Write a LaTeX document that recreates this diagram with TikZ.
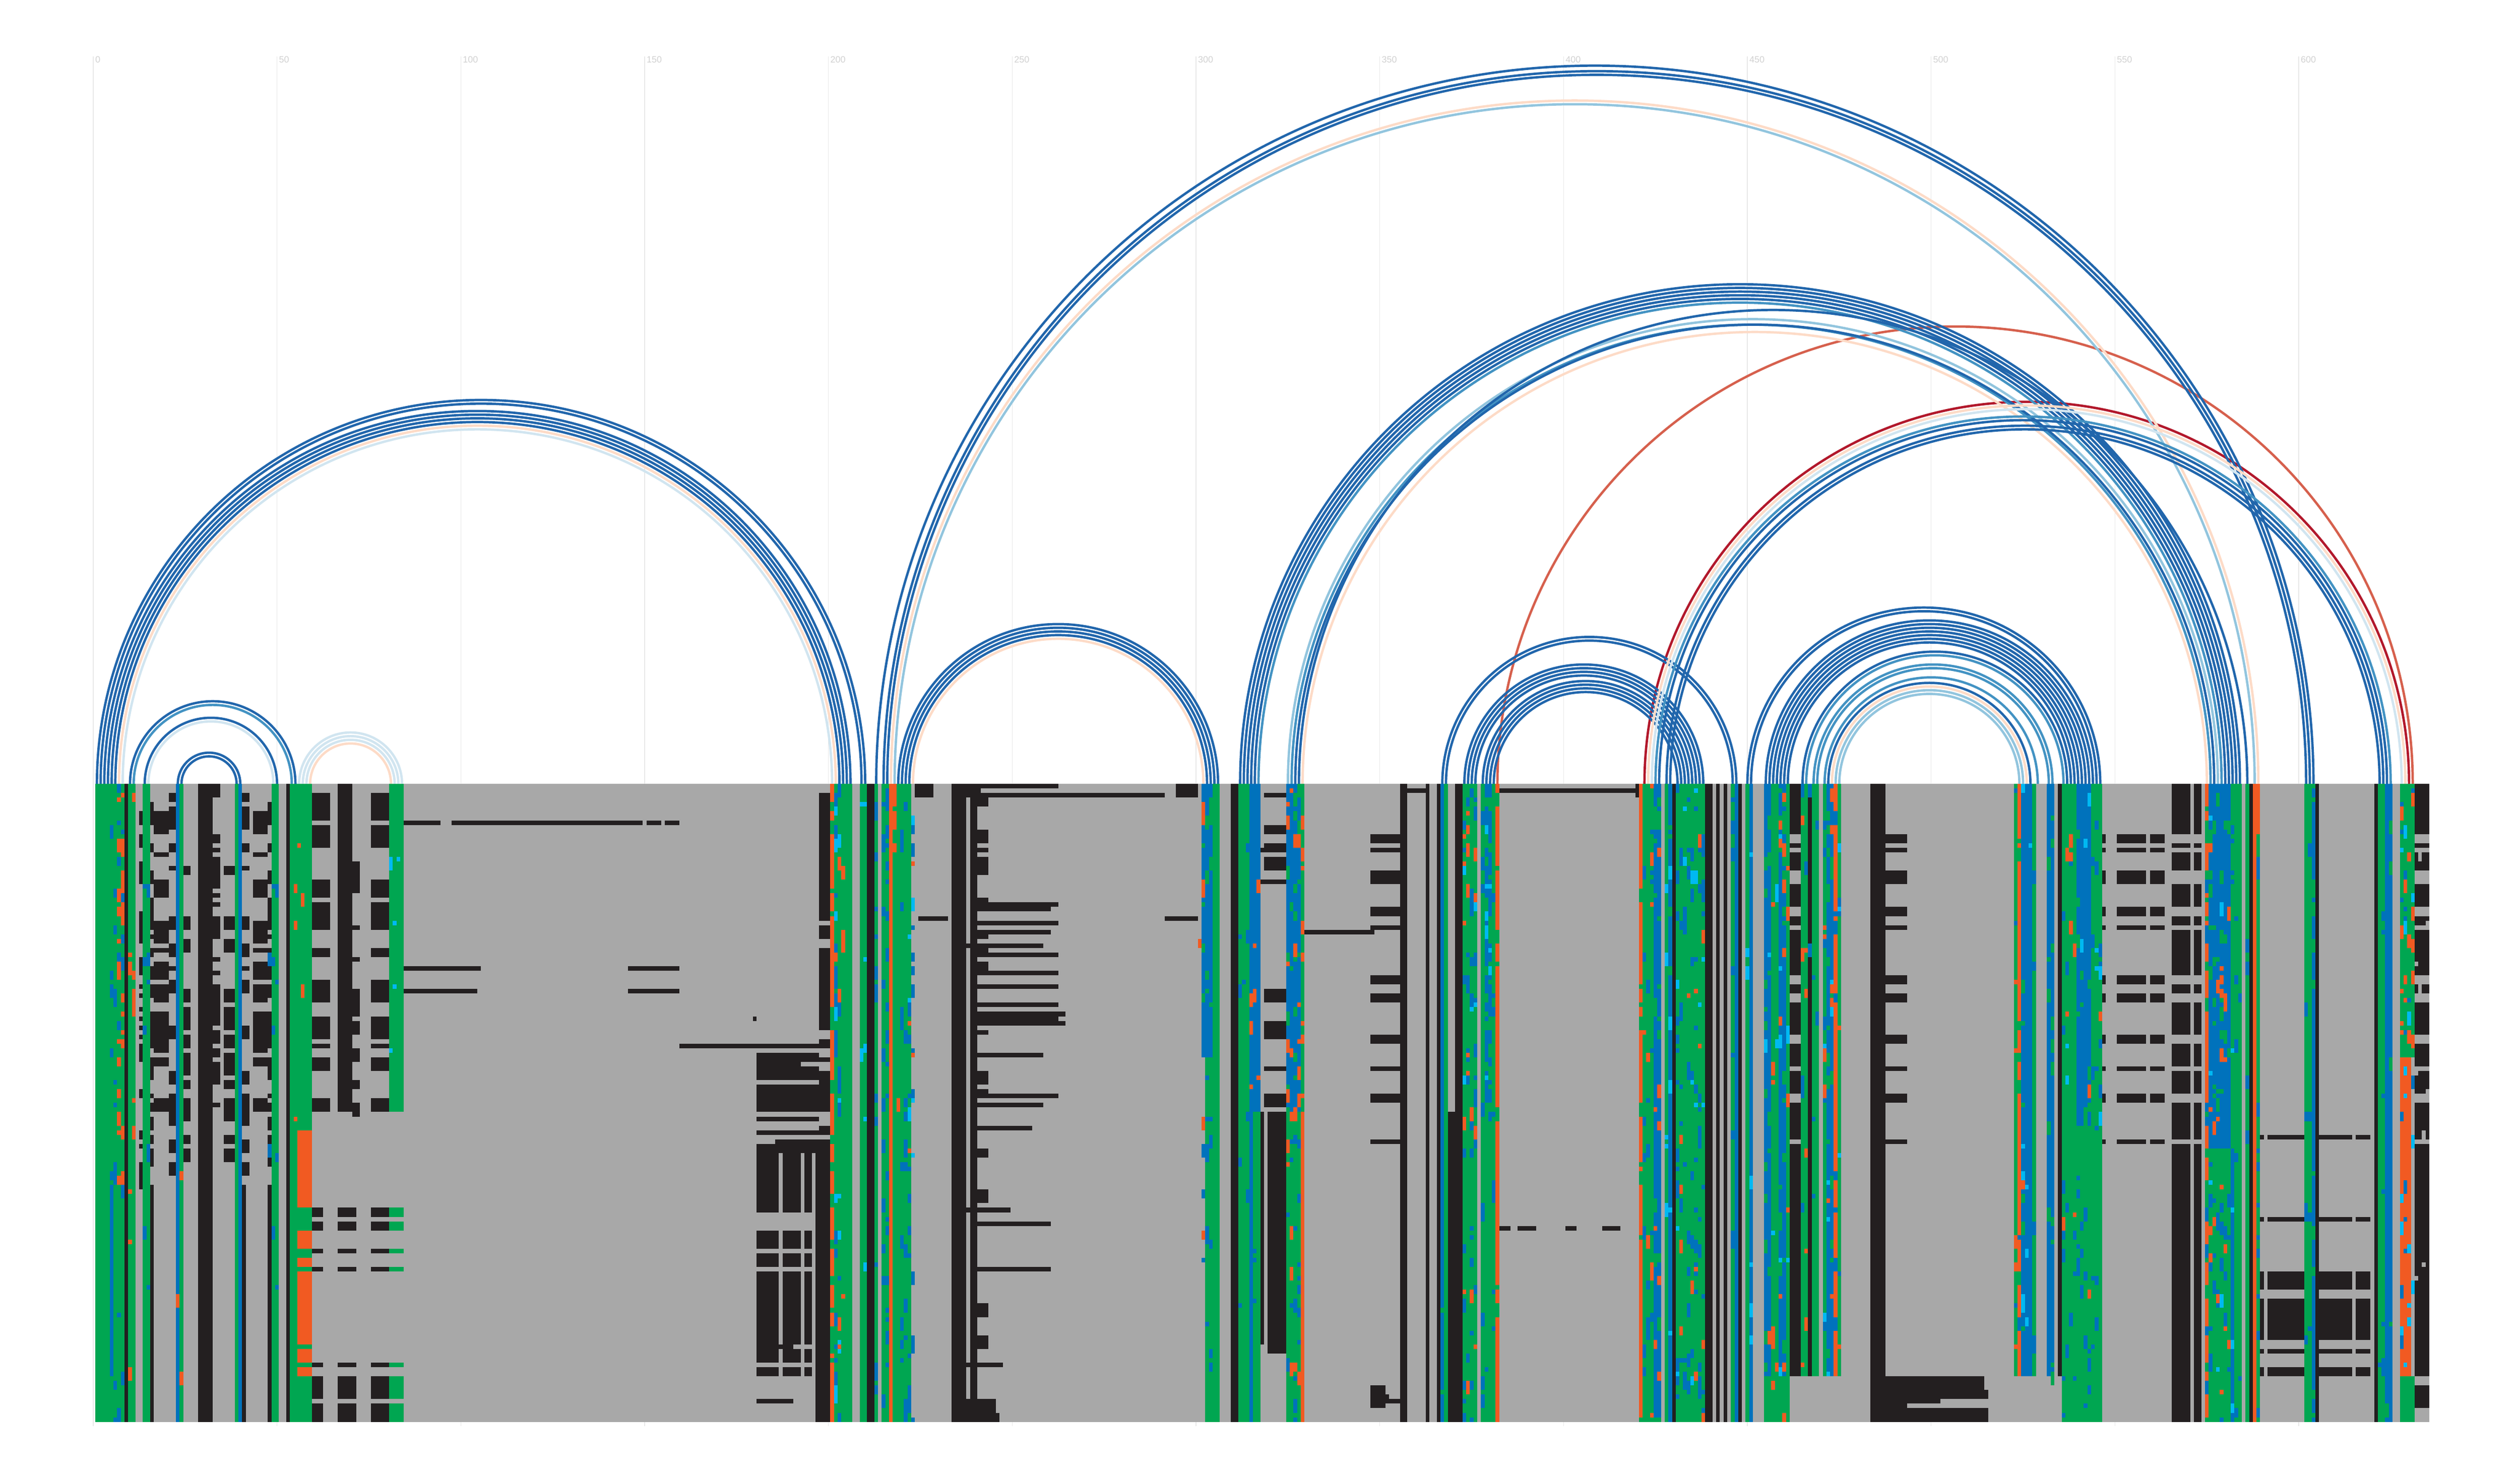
\documentclass[tikz,border=0pt]{standalone}
\usepackage{fontspec}
\setmainfont{Liberation Sans}
\definecolor{msaG}{HTML}{00A651}
\definecolor{msaB}{HTML}{0072BC}
\definecolor{msaC}{HTML}{00B9F2}
\definecolor{msaO}{HTML}{F15A22}
\definecolor{msaK}{HTML}{231F20}
\definecolor{msaS}{HTML}{A8A8A8}
\definecolor{arcblue1}{HTML}{2166AC}
\definecolor{arcblue2}{HTML}{4393C3}
\definecolor{arcblue3}{HTML}{92C5DE}
\definecolor{arcblue4}{HTML}{D1E5F0}
\definecolor{arcpeach}{HTML}{FDDBC7}
\definecolor{arcred1}{HTML}{D6604D}
\definecolor{arcred2}{HTML}{B2182B}
\tikzset{
  arcD/.style={draw=arcblue1,line width=0.048cm},
  arcM/.style={draw=arcblue2,line width=0.048cm},
  arcL/.style={draw=arcblue3,line width=0.048cm},
  arcV/.style={draw=arcblue4,line width=0.048cm},
  arcP/.style={draw=arcpeach,line width=0.048cm},
  arcR/.style={draw=arcred1,line width=0.048cm},
  arcRR/.style={draw=arcred2,line width=0.048cm},
  gridline/.style={draw=black!9,line width=0.015cm},
  ticklabel/.style={anchor=north west,inner sep=0pt,text=black!18,font=\fontsize{5.2}{6}\selectfont}
}
% one basepair: style, left column, right column
\newcommand{\pairarc}[3]{\pgfmathsetmacro{\arcr}{(#3-#2)*0.03705}\draw[#1] (#2-0.5,0) arc[start angle=180,end angle=0,radius=\arcr cm];}
% loose cells: columns, rows, colour, how many, seed
\newcommand{\speckle}[7]{\pgfmathsetseed{#7}\foreach \n in {1,...,#6}{\pgfmathrandominteger{\cx}{#1}{#2}\pgfmathrandominteger{\cy}{#3}{#4}\pgfmathrandominteger{\ch}{1}{3}\fill[fill=#5] (\cx-1,\cy-1) rectangle ++(1,\ch);}}
% whole bars across the columns, same seed gives the same rows
\newcommand{\barset}[7]{\pgfmathsetseed{#7}\foreach \n in {1,...,#6}{\pgfmathrandominteger{\cy}{#3}{#4}\pgfmathrandominteger{\ch}{1}{3}\fill[fill=#5] (#1-1,\cy-1) rectangle (#2,\cy+\ch-1);}}
\begin{document}
\begin{tikzpicture}[x=0.0741cm,y=-0.0919cm]
\useasboundingbox (-25.87,-172.03) rectangle (659.69,152.88);
\foreach \t in {0,50,...,600}{
  \draw[gridline] (\t-0.5,-159.7) -- (\t-0.5,140.9);
  \node[ticklabel] (tick\t) at (\t-0.05,-159.7) {\t};
}
\pairarc{arcR}{382}{631}
\pairarc{arcRR}{422}{630}
\pairarc{arcV}{8}{201}
\pairarc{arcP}{7}{202}
\pairarc{arcD}{6}{203}
\pairarc{arcD}{5}{204}
\pairarc{arcD}{4}{205}
\pairarc{arcD}{3}{206}
\pairarc{arcD}{2}{209}
\pairarc{arcD}{1}{210}
\pairarc{arcD}{10}{55}
\pairarc{arcM}{11}{54}
\pairarc{arcD}{14}{50}
\pairarc{arcV}{15}{49}
\pairarc{arcD}{23}{40}
\pairarc{arcD}{24}{39}
\pairarc{arcV}{56}{84}
\pairarc{arcV}{57}{83}
\pairarc{arcV}{58}{82}
\pairarc{arcP}{59}{81}
\pairarc{arcD}{213}{604}
\pairarc{arcD}{215}{603}
\pairarc{arcD}{216}{602}
\pairarc{arcP}{217}{589}
\pairarc{arcL}{218}{588}
\pairarc{arcD}{219}{306}
\pairarc{arcD}{220}{305}
\pairarc{arcD}{221}{304}
\pairarc{arcD}{222}{303}
\pairarc{arcP}{223}{302}
\pairarc{arcD}{312}{584}
\pairarc{arcD}{313}{583}
\pairarc{arcD}{314}{582}
\pairarc{arcD}{315}{581}
\pairarc{arcD}{316}{580}
\pairarc{arcM}{317}{579}
\pairarc{arcL}{325}{578}
\pairarc{arcM}{326}{576}
\pairarc{arcD}{327}{577}
\pairarc{arcD}{328}{586}
\pairarc{arcP}{329}{575}
\pairarc{arcD}{367}{447}
\pairarc{arcD}{368}{446}
\pairarc{arcD}{373}{438}
\pairarc{arcD}{374}{437}
\pairarc{arcD}{375}{436}
\pairarc{arcD}{376}{435}
\pairarc{arcD}{378}{434}
\pairarc{arcD}{379}{433}
\pairarc{arcD}{380}{432}
\pairarc{arcD}{381}{431}
\pairarc{arcP}{423}{629}
\pairarc{arcV}{424}{628}
\pairarc{arcM}{425}{625}
\pairarc{arcD}{426}{624}
\pairarc{arcD}{428}{623}
\pairarc{arcD}{429}{622}
\pairarc{arcD}{450}{546}
\pairarc{arcD}{451}{545}
\pairarc{arcD}{455}{544}
\pairarc{arcD}{456}{543}
\pairarc{arcD}{457}{542}
\pairarc{arcD}{458}{541}
\pairarc{arcD}{459}{540}
\pairarc{arcD}{460}{539}
\pairarc{arcD}{461}{538}
\pairarc{arcD}{465}{537}
\pairarc{arcM}{466}{536}
\pairarc{arcM}{468}{533}
\pairarc{arcM}{469}{532}
\pairarc{arcM}{471}{529}
\pairarc{arcD}{472}{527}
\pairarc{arcP}{473}{526}
\pairarc{arcL}{474}{525}
\pairarc{arcL}{475}{524}
\begin{scope}
\clip (0,0) rectangle (635,140);
\fill[fill=msaS] (0,0) rectangle (635,140);
% columns: first/last/first row/last row/colour
\foreach \a/\b/\r/\s/\c in {1/8/1/140/msaG,9/9/1/140/msaK,10/11/1/140/msaG,14/15/1/140/msaG,16/16/89/140/msaK,
  23/23/1/140/msaB,24/24/1/140/msaG,29/32/1/140/msaK,39/39/1/140/msaG,40/40/1/140/msaB,41/41/89/140/msaK,48/48/89/140/msaK,
  49/50/1/140/msaG,53/53/1/140/msaK,54/59/1/140/msaG,56/59/77/93/msaO,56/59/99/102/msaO,56/59/105/106/msaO,56/59/108/123/msaO,
  56/59/125/127/msaO,56/59/129/130/msaO,67/70/1/72/msaK,81/84/1/72/msaG,5/5/89/130/msaB,
  197/200/80/140/msaK,201/206/1/140/msaG,201/201/1/140/msaO,209/210/1/140/msaG,211/212/1/140/msaK,213/213/1/140/msaG,
  215/216/1/140/msaG,217/218/1/15/msaO,217/217/16/140/msaO,218/222/16/140/msaG,219/222/1/15/msaG,234/237/1/140/msaK,239/240/4/140/msaK,
  224/228/1/3/msaK,295/300/1/3/msaK,303/304/1/60/msaB,305/306/1/140/msaG,303/304/61/140/msaG,302/302/1/60/msaB,310/311/1/140/msaK,
  312/315/1/140/msaG,316/317/1/72/msaB,316/317/73/140/msaG,315/315/1/140/msaB,318/318/73/123/msaK,320/324/73/125/msaK,
  325/328/1/72/msaB,325/328/73/140/msaG,329/329/1/72/msaG,329/329/73/140/msaO,356/357/1/140/msaK,363/363/1/140/msaK,366/366/1/140/msaK,
  367/367/1/140/msaB,368/368/1/140/msaG,369/370/73/140/msaK,371/372/1/140/msaK,373/376/1/140/msaG,378/381/1/140/msaG,379/380/1/70/msaB,
  382/382/1/140/msaO,421/421/1/140/msaO,422/424/1/140/msaG,425/426/1/140/msaB,428/428/1/140/msaG,429/429/1/140/msaB,430/430/1/140/msaK,
  431/438/1/140/msaG,439/440/1/140/msaK,442/442/1/140/msaK,444/444/1/140/msaK,446/446/1/140/msaG,447/447/1/140/msaB,448/448/1/140/msaK,
  450/450/1/140/msaG,451/451/1/140/msaB,455/461/1/140/msaG,455/456/1/130/msaB,459/460/1/130/msaB,462/464/1/130/msaK,465/466/1/130/msaG,467/467/1/130/msaK,
  468/469/1/130/msaG,471/471/1/130/msaG,472/473/1/130/msaB,474/474/1/130/msaO,475/475/1/130/msaG,484/487/1/140/msaK,
  523/523/1/130/msaG,524/524/1/130/msaO,525/527/1/130/msaB,528/528/1/130/msaG,532/533/1/130/msaB,535/535/1/130/msaK,536/546/1/140/msaG,540/543/1/75/msaB,
  566/570/1/140/msaK,572/573/1/140/msaK,575/575/1/140/msaO,576/581/1/80/msaB,576/581/81/140/msaG,582/584/1/140/msaG,582/582/81/140/msaB,586/586/1/140/msaG,587/587/1/140/msaK,
  588/589/1/11/msaO,588/589/12/140/msaG,588/588/12/140/msaO,602/603/1/140/msaG,604/604/1/140/msaB,605/605/1/140/msaK,621/621/1/140/msaK,622/625/1/140/msaG,
  624/625/1/140/msaB,628/631/1/60/msaG,628/630/61/130/msaO,628/631/131/140/msaG,632/635/1/130/msaK,
  488/514/131/133/msaK,488/515/134/135/msaK,488/502/136/136/msaK,488/493/137/137/msaK,488/515/138/140/msaK}{
  \fill[fill=\c] (\a-1,\r-1) rectangle (\b,\s);
}
% black bars that come back in the stems
\barset{13}{13}{1}{88}{msaK}{34}{11}
\barset{16}{16}{1}{88}{msaK}{36}{12}\barset{48}{48}{1}{88}{msaK}{36}{12}
\barset{17}{20}{1}{72}{msaK}{22}{13}\barset{44}{47}{1}{72}{msaK}{22}{13}
\barset{21}{22}{1}{88}{msaK}{26}{14}\barset{41}{42}{1}{88}{msaK}{26}{14}
\barset{25}{26}{1}{88}{msaK}{24}{15}\barset{36}{38}{1}{88}{msaK}{24}{15}
\barset{33}{34}{1}{72}{msaK}{28}{16}
\barset{60}{64}{1}{72}{msaK}{26}{17}\barset{76}{80}{1}{72}{msaK}{26}{17}
\barset{71}{72}{1}{72}{msaK}{12}{18}
\barset{198}{200}{1}{79}{msaK}{55}{19}
\barset{181}{197}{59}{80}{msaK}{9}{20}
\barset{319}{324}{1}{72}{msaK}{9}{21}
\barset{241}{243}{1}{130}{msaK}{24}{22}
\barset{632}{635}{131}{140}{msaK}{3}{23}
% rows and blocks that run across
\foreach \r/\s in {82/94,99/102,104/106,108/123,125/127,129/130}{
  \fill[fill=msaK] (180,\r-1) rectangle (186,\s);
  \fill[fill=msaK] (187,\r-1) rectangle (192,\s);
  \fill[fill=msaK] (193,\r-1) rectangle (195,\s);
}
\foreach \r in {94,95,97,98,103,107,128,131,132,133,134,135,137,138,139,140}{
  \fill[fill=msaG] (80,\r-1) rectangle (84,\r);
  \fill[fill=msaK] (66,\r-1) rectangle (71,\r);
  \fill[fill=msaK] (75,\r-1) rectangle (80,\r);
  \fill[fill=msaK] (59,\r-1) rectangle (62,\r);
}
\foreach \r in {12,13,15,20,21,22,28,29,32,43,44,47,48,56,57,63,69,70,79}{
  \fill[fill=msaS] (461,\r-1) rectangle (464,\r);
  \fill[fill=msaS] (565,\r-1) rectangle (573,\r);
  \fill[fill=msaS] (631,\r-1) rectangle (635,\r);
  \fill[fill=msaK] (487,\r-1) rectangle (493,\r);
  \fill[fill=msaK] (546,\r-1) rectangle (547,\r);
  \fill[fill=msaK] (550,\r-1) rectangle (558,\r);
  \fill[fill=msaK] (559,\r-1) rectangle (563,\r);
  \fill[fill=msaK] (347,\r-1) rectangle (355,\r);
}
\foreach \r/\s in {96/96,108/111,114/122,125/125,129/130,78/78}{
  \fill[fill=msaK] (589,\r-1) rectangle (590,\s);
  \fill[fill=msaK] (591,\r-1) rectangle (601,\s);
  \fill[fill=msaK] (605,\r-1) rectangle (614,\s);
  \fill[fill=msaK] (615,\r-1) rectangle (619,\s);
}
% single bars: row/first/last
\foreach \r/\a/\b in {1/238/262,2/238/241,3/238/291,9/85/94,9/98/149,9/151/154,9/156/159,41/85/105,41/146/159,46/85/104,46/146/159,58/160/198,52/180/180,
  28/240/260,33/240/260,36/238/258,30/225/232,30/292/300,27/240/262,31/240/262,38/240/262,42/240/262,45/240/262,49/240/262,51/240/264,52/240/262,53/240/264,
  60/240/258,69/240/262,71/240/258,76/239/255,97/240/260,107/240/260,94/238/249,128/234/247,136/238/245,137/238/245,138/238/245,139/238/246,140/238/246,
  2/358/363,2/383/420,1/420/420,3/420/420,15/318/324,22/318/324,33/329/348,98/383/385,98/388/392,98/401/403,98/411/415,135/348/352,
  136/348/357,133/348/351,134/348/351,137/348/351,60/181/197,62/181/192,65/186/197,72/181/197,77/181/197,79/186/197,124/181/190,136/181/190}{
  \fill[fill=msaK] (\a-1,\r-1) rectangle (\b,\r);
}
% mixed cells
\speckle{5}{8}{1}{140}{msaB}{34}{31}
\speckle{7}{8}{1}{88}{msaO}{30}{32}
\speckle{10}{11}{1}{130}{msaO}{12}{33}
\speckle{14}{15}{1}{130}{msaB}{10}{34}
\speckle{47}{50}{1}{130}{msaB}{10}{34}
\speckle{23}{24}{1}{130}{msaO}{3}{35}
\speckle{54}{58}{1}{76}{msaO}{6}{36}
\speckle{81}{83}{1}{72}{msaC}{5}{37}
\speckle{201}{201}{1}{140}{msaG}{18}{38}
\speckle{202}{203}{1}{140}{msaB}{35}{39}
\speckle{202}{203}{1}{140}{msaC}{16}{40}
\speckle{202}{205}{1}{140}{msaO}{10}{41}
\speckle{209}{210}{1}{140}{msaC}{8}{42}
\speckle{213}{213}{1}{140}{msaB}{14}{43}
\speckle{215}{216}{1}{140}{msaB}{40}{44}
\speckle{218}{218}{1}{30}{msaG}{6}{45}
\speckle{220}{223}{1}{140}{msaB}{50}{46}
\speckle{222}{223}{1}{140}{msaC}{8}{47}
\speckle{219}{223}{1}{140}{msaO}{5}{48}
\speckle{302}{304}{1}{140}{msaB}{25}{49}
\speckle{302}{304}{1}{60}{msaG}{20}{50}
\speckle{301}{302}{1}{140}{msaO}{7}{51}
\speckle{312}{317}{1}{140}{msaB}{20}{52}
\speckle{315}{317}{1}{72}{msaO}{8}{53}
\speckle{325}{328}{1}{72}{msaG}{30}{54}
\speckle{325}{328}{1}{72}{msaO}{16}{55}
\speckle{325}{328}{73}{140}{msaB}{22}{56}
\speckle{325}{328}{73}{140}{msaO}{8}{57}
\speckle{329}{329}{1}{72}{msaO}{10}{58}
\speckle{367}{368}{1}{140}{msaG}{10}{59}
\speckle{373}{376}{1}{140}{msaB}{42}{60}
\speckle{373}{376}{1}{140}{msaO}{18}{61}
\speckle{373}{376}{1}{70}{msaC}{5}{62}
\speckle{378}{381}{1}{140}{msaB}{30}{63}
\speckle{379}{380}{1}{70}{msaC}{10}{64}
\speckle{379}{380}{1}{70}{msaG}{22}{65}
\speckle{381}{382}{1}{140}{msaG}{14}{66}
\speckle{421}{421}{1}{140}{msaG}{10}{67}
\speckle{422}{426}{1}{140}{msaO}{20}{68}
\speckle{422}{426}{1}{140}{msaB}{35}{69}
\speckle{424}{426}{1}{140}{msaG}{34}{70}
\speckle{428}{429}{1}{140}{msaC}{10}{71}
\speckle{428}{429}{1}{140}{msaG}{12}{72}
\speckle{431}{438}{1}{140}{msaB}{85}{73}
\speckle{431}{438}{1}{140}{msaC}{14}{74}
\speckle{431}{438}{1}{140}{msaO}{14}{75}
\speckle{446}{447}{1}{140}{msaB}{14}{76}
\speckle{450}{451}{1}{140}{msaC}{7}{77}
\speckle{455}{461}{1}{130}{msaG}{70}{78}
\speckle{455}{461}{1}{140}{msaO}{22}{79}
\speckle{455}{461}{1}{140}{msaC}{14}{80}
\speckle{465}{469}{1}{130}{msaB}{12}{81}
\speckle{465}{466}{1}{130}{msaO}{8}{82}
\speckle{471}{475}{1}{130}{msaB}{36}{83}
\speckle{471}{475}{1}{130}{msaC}{12}{84}
\speckle{471}{475}{1}{130}{msaO}{14}{85}
\speckle{472}{473}{1}{130}{msaG}{20}{86}
\speckle{523}{528}{1}{130}{msaB}{20}{87}
\speckle{523}{525}{1}{130}{msaG}{18}{88}
\speckle{523}{525}{1}{130}{msaO}{10}{89}
\speckle{525}{527}{1}{130}{msaC}{9}{90}
\speckle{532}{533}{1}{130}{msaG}{20}{91}
\speckle{536}{546}{1}{140}{msaB}{60}{92}
\speckle{536}{546}{1}{75}{msaC}{10}{93}
\speckle{536}{546}{1}{140}{msaO}{12}{94}
\speckle{540}{543}{1}{75}{msaG}{12}{95}
\speckle{575}{575}{1}{140}{msaG}{24}{96}
\speckle{575}{575}{1}{140}{msaB}{10}{97}
\speckle{576}{581}{1}{80}{msaG}{30}{98}
\speckle{576}{581}{1}{140}{msaO}{25}{99}
\speckle{576}{581}{81}{140}{msaB}{25}{100}
\speckle{576}{584}{1}{140}{msaC}{10}{101}
\speckle{582}{584}{1}{140}{msaB}{12}{102}
\speckle{586}{586}{1}{140}{msaB}{4}{103}
\speckle{589}{589}{12}{140}{msaB}{12}{104}
\speckle{602}{604}{1}{140}{msaB}{14}{105}
\speckle{604}{604}{1}{140}{msaG}{14}{106}
\speckle{622}{625}{1}{140}{msaB}{18}{107}
\speckle{622}{625}{1}{140}{msaG}{10}{108}
\speckle{628}{631}{1}{140}{msaB}{16}{109}
\speckle{628}{631}{1}{140}{msaC}{16}{110}
\speckle{628}{631}{1}{60}{msaO}{18}{111}
\speckle{632}{635}{1}{130}{msaS}{10}{112}
\end{scope}
\end{tikzpicture}
\end{document}
